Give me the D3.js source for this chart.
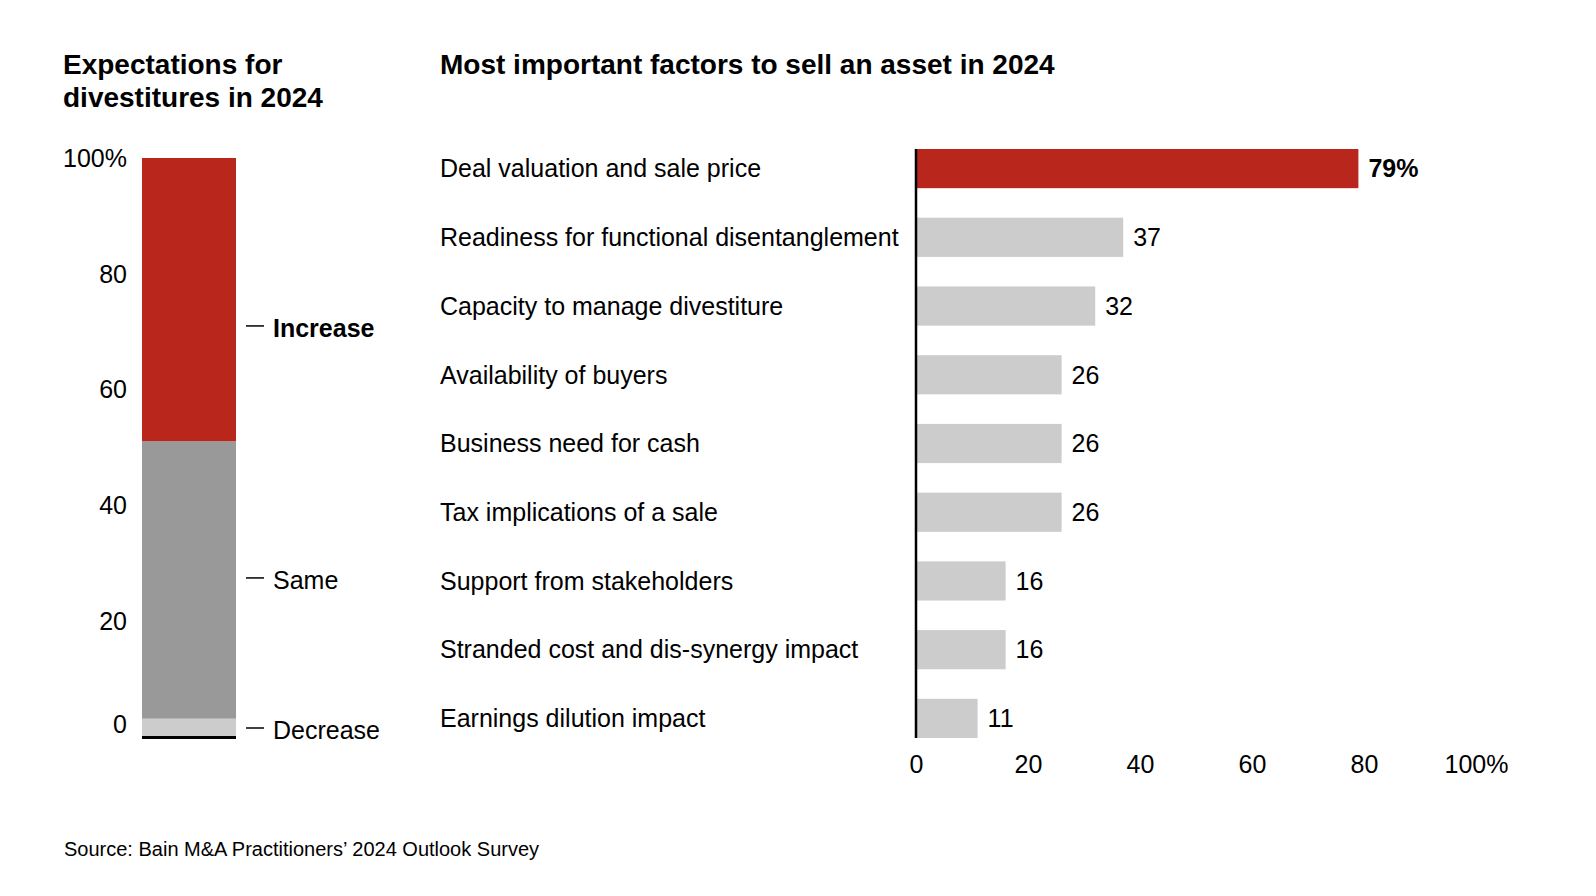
<!DOCTYPE html>
<html>
<head>
<meta charset="utf-8">
<script src="https://cdn.jsdelivr.net/npm/d3@7"></script>
<style>
  body { margin: 0; background: #fff; }
  svg text { font-family: "Liberation Sans", Arial, sans-serif; fill: #000; }
</style>
</head>
<body>
<div id="chart"></div>
<script>
// Left panel: expectations for divestitures (share of respondents, %)
var expectCategories = ["Decrease", "Same", "Increase"];
var expectValues = [3, 48, 49];
var expectTicks = [0, 20, 40, 60, 80, 100];

// Right panel: most important factors to sell an asset (%)
var factorCategories = [
  "Deal valuation and sale price",
  "Readiness for functional disentanglement",
  "Capacity to manage divestiture",
  "Availability of buyers",
  "Business need for cash",
  "Tax implications of a sale",
  "Support from stakeholders",
  "Stranded cost and dis-synergy impact",
  "Earnings dilution impact"
];
var factorValues = [79, 37, 32, 26, 26, 26, 16, 16, 11];
var factorTicks = [0, 20, 40, 60, 80, 100];

var RED = "#B8261C";
var expectColors = {"Decrease": "#CCCCCC", "Same": "#999999", "Increase": RED};

var width = 1596, height = 896;
var svg = d3.select("#chart").append("svg")
  .attr("width", width)
  .attr("height", height);

/** Titles */
var leftTitle = svg.append("text")
  .attr("x", 63)
  .attr("y", 74)
  .style("font-size", "28px")
  .style("font-weight", "bold");
leftTitle.append("tspan").attr("x", 63).text("Expectations for");
leftTitle.append("tspan").attr("x", 63).attr("dy", 33).text("divestitures in 2024");

svg.append("text")
  .attr("x", 440)
  .attr("y", 74)
  .style("font-size", "28px")
  .style("font-weight", "bold")
  .text("Most important factors to sell an asset in 2024");

/** Left stacked column */
var y = d3.scaleLinear().domain([0, 100]).range([736, 158]);
var colX = 142, colW = 94;

var stacked = [];
var acc = 0;
expectCategories.forEach(function(c, i) {
  stacked.push({cat: c, y0: acc, y1: acc + expectValues[i]});
  acc += expectValues[i];
});

var left = svg.append("g");
left.selectAll("rect.seg")
  .data(stacked)
  .enter().append("rect")
    .attr("class", "seg")
    .attr("x", colX)
    .attr("width", colW)
    .attr("y", function(d) { return y(d.y1); })
    .attr("height", function(d) { return y(d.y0) - y(d.y1); })
    .attr("fill", function(d) { return expectColors[d.cat]; });

// baseline under the column
left.append("line")
  .attr("x1", colX).attr("x2", colX + colW)
  .attr("y1", y(0) + 1.5).attr("y2", y(0) + 1.5)
  .attr("stroke", "#000")
  .attr("stroke-width", 3);

var leftAxis = svg.append("g")
  .attr("transform", "translate(127,0)")
  .call(d3.axisLeft(y).tickValues(expectTicks).tickSize(0).tickPadding(0)
    .tickFormat(function(d) { return d === 100 ? d + "%" : d; }));
leftAxis.select(".domain").remove();
leftAxis.selectAll("text")
  .style("font-size", "25px")
  .attr("dy", "0.35em")
  .attr("y", function(d) { return d === 0 ? -12 : 0; });

// segment labels with leader dashes
var labelY = function(d) {
  if (d.cat === "Decrease") return y(d.y0) - 6;
  if (d.cat === "Increase") return y(d.y1 - (d.y1 - d.y0) * 0.6);
  return y((d.y0 + d.y1) / 2);
};
var segLabels = left.selectAll("g.seglabel")
  .data(stacked)
  .enter().append("g")
    .attr("class", "seglabel")
    .attr("transform", function(d) { return "translate(0," + labelY(d) + ")"; });
segLabels.append("line")
  .attr("x1", 246).attr("x2", 264)
  .attr("y1", -2).attr("y2", -2)
  .attr("stroke", "#000")
  .attr("stroke-width", 1.5);
segLabels.append("text")
  .attr("x", 273)
  .attr("dy", "0.35em")
  .style("font-size", "25px")
  .style("font-weight", function(d) { return d.cat === "Increase" ? "bold" : "normal"; })
  .text(function(d) { return d.cat; });

/** Right horizontal bars */
var x = d3.scaleLinear().domain([0, 100]).range([916, 1476]);
var band = d3.scaleBand()
  .domain(factorCategories)
  .range([149, 738])
  .paddingInner(0.43)
  .paddingOuter(0);

var factors = factorCategories.map(function(c, i) { return {cat: c, value: factorValues[i]}; });

var right = svg.append("g");
right.selectAll("rect.bar")
  .data(factors)
  .enter().append("rect")
    .attr("class", "bar")
    .attr("x", x(0))
    .attr("y", function(d) { return band(d.cat); })
    .attr("width", function(d) { return x(d.value) - x(0); })
    .attr("height", band.bandwidth())
    .attr("fill", function(d, i) { return i === 0 ? RED : "#CCCCCC"; });

right.selectAll("text.cat")
  .data(factors)
  .enter().append("text")
    .attr("class", "cat")
    .attr("x", 440)
    .attr("y", function(d) { return band(d.cat) + band.bandwidth() / 2; })
    .attr("dy", "0.35em")
    .style("font-size", "25px")
    .text(function(d) { return d.cat; });

right.selectAll("text.val")
  .data(factors)
  .enter().append("text")
    .attr("class", "val")
    .attr("x", function(d) { return x(d.value) + 10; })
    .attr("y", function(d) { return band(d.cat) + band.bandwidth() / 2; })
    .attr("dy", "0.35em")
    .style("font-size", "25px")
    .style("font-weight", function(d, i) { return i === 0 ? "bold" : "normal"; })
    .text(function(d, i) { return i === 0 ? d.value + "%" : d.value; });

// vertical zero line
right.append("line")
  .attr("x1", x(0)).attr("x2", x(0))
  .attr("y1", band.range()[0]).attr("y2", band.range()[1])
  .attr("stroke", "#000")
  .attr("stroke-width", 2.5);

var bottomAxis = svg.append("g")
  .attr("transform", "translate(0,755)")
  .call(d3.axisBottom(x).tickValues(factorTicks).tickSize(0).tickPadding(0)
    .tickFormat(function(d) { return d === 100 ? d + "%" : d; }));
bottomAxis.select(".domain").remove();
bottomAxis.selectAll("text")
  .style("font-size", "25px")
  .attr("dy", "0.71em");

/** Source */
svg.append("text")
  .attr("x", 64)
  .attr("y", 856)
  .style("font-size", "20px")
  .text("Source: Bain M&A Practitioners\u2019 2024 Outlook Survey");
</script>
</body>
</html>
